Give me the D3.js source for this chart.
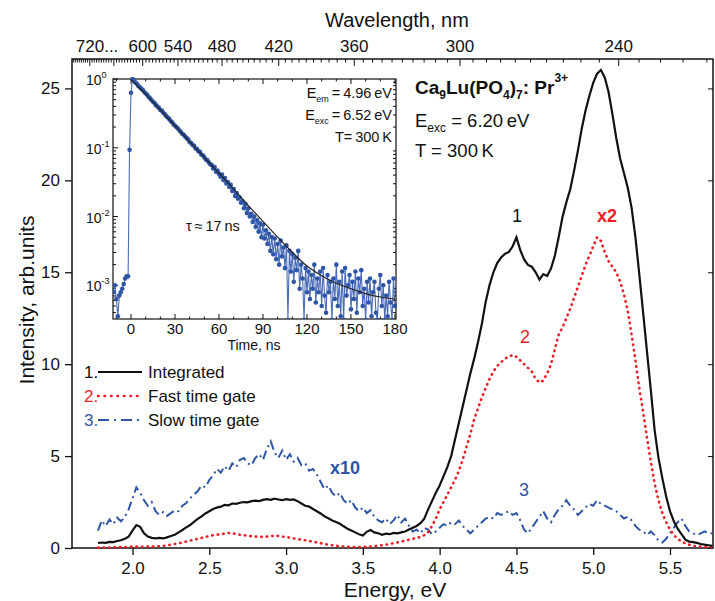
<!DOCTYPE html>
<html>
<head>
<meta charset="utf-8">
<script src="https://cdn.jsdelivr.net/npm/d3@7"></script>
<style>
  body { margin: 0; background: #fff; }
  svg { font-family: "Liberation Sans", Arial, sans-serif; }
</style>
</head>
<body>
<svg id="chart" width="715" height="601"></svg>
<script>
// energy grid of the spectra (eV): first point and step
const eStart = 1.775;
const eStep = 0.025;

// 1. integrated
const integrated = [0.27,0.30,0.28,0.33,0.32,0.38,0.42,0.50,0.62,0.95,1.25,1.15,0.80,0.62,0.55,0.52,0.55,0.52,0.58,0.65,
  0.72,0.85,0.98,1.12,1.25,1.42,1.58,1.72,1.88,2.00,2.12,2.20,2.25,2.35,2.32,2.42,2.40,2.46,2.50,2.48,
  2.55,2.58,2.55,2.62,2.66,2.62,2.68,2.64,2.60,2.66,2.62,2.64,2.55,2.42,2.30,2.25,2.12,2.00,1.88,1.72,
  1.62,1.50,1.42,1.32,1.18,1.05,0.95,0.85,0.75,0.68,0.88,0.98,0.85,0.80,0.72,0.78,0.75,0.82,0.80,0.85,
  0.90,1.00,1.10,1.20,1.35,1.60,2.10,2.55,3.00,3.40,3.90,4.40,5.00,5.90,6.80,7.70,8.60,9.50,10.3,11.2,
  12.2,13.4,14.3,15.0,15.5,15.8,16.0,16.1,16.4,16.9,16.2,15.7,15.4,15.3,15.0,14.6,14.9,14.8,15.2,15.9,
  16.9,18.0,18.8,19.5,20.5,21.6,22.8,23.8,24.6,25.3,25.8,26.0,25.6,24.8,23.6,22.3,21.2,20.4,19.6,18.5,
  16.9,14.9,12.8,10.7,8.6,6.4,4.9,3.8,2.8,2.0,1.45,1.05,0.75,0.45,0.35,0.32,0.28,0.22,0.18,0.15,0.12];

// 2. fast time gate (x2)
const fastGate = [0.02,0.02,0.03,0.03,0.04,0.04,0.05,0.05,0.06,0.08,0.08,0.07,0.07,0.08,0.08,0.09,0.10,0.12,0.14,0.18,
  0.22,0.25,0.30,0.35,0.40,0.45,0.50,0.55,0.60,0.65,0.70,0.72,0.75,0.78,0.82,0.80,0.76,0.72,0.70,0.66,
  0.64,0.62,0.62,0.60,0.62,0.66,0.64,0.66,0.62,0.60,0.56,0.52,0.48,0.45,0.42,0.38,0.35,0.30,0.26,0.22,
  0.18,0.15,0.12,0.10,0.08,0.07,0.06,0.05,0.05,0.06,0.06,0.08,0.10,0.12,0.15,0.18,0.22,0.26,0.30,0.35,
  0.40,0.45,0.50,0.55,0.60,0.70,0.85,1.20,1.60,2.10,2.50,2.90,3.30,3.70,4.20,4.80,5.50,6.20,7.00,7.60,
  8.20,8.70,9.20,9.60,9.90,10.1,10.3,10.4,10.5,10.4,10.2,10.0,9.80,9.60,9.20,9.00,9.10,9.50,10.0,10.8,
  11.6,12.0,12.5,13.0,13.6,14.2,14.8,15.4,15.9,16.4,16.9,16.7,16.1,15.6,15.3,15.0,14.5,13.8,12.9,11.6,
  10.2,8.70,7.40,6.00,4.70,3.50,2.60,1.90,1.40,1.00,0.70,0.50,0.35,0.25,0.18,0.12,0.10,0.08,0.06,0.05,0.05];

// 3. slow time gate (x10)
const slowGate = [0.95,1.50,1.20,1.55,1.30,1.65,1.45,1.70,2.10,2.70,3.30,3.00,2.60,2.30,2.50,2.00,1.80,1.95,1.75,1.90,
  2.05,2.00,2.30,2.45,2.70,2.90,3.10,3.40,3.30,3.70,3.95,4.30,4.10,4.45,4.20,4.60,4.40,4.80,4.90,4.60,
  4.50,4.90,5.10,4.80,5.40,5.80,5.20,4.90,5.30,4.80,5.10,4.70,4.90,4.50,4.60,4.20,4.30,4.00,3.60,3.20,
  3.40,3.00,2.80,3.00,2.60,2.40,2.60,2.20,2.00,2.20,1.90,2.05,1.70,1.50,1.40,1.60,1.30,1.50,1.80,1.40,
  1.60,1.20,0.90,1.00,0.80,1.10,1.00,0.75,0.90,1.10,1.30,1.20,1.40,1.30,1.50,1.20,1.00,0.80,1.00,1.20,
  1.40,1.60,1.70,1.60,1.90,1.80,1.90,2.00,1.80,1.90,1.50,1.00,0.80,1.10,1.40,1.70,2.00,1.60,1.40,1.80,
  2.10,2.30,2.60,2.30,2.10,1.80,2.00,2.20,2.40,2.30,2.60,2.40,2.30,2.20,2.10,2.00,1.80,1.60,1.70,1.50,
  1.20,1.00,0.90,0.70,0.90,0.70,0.40,0.30,0.50,0.80,1.10,1.40,1.60,1.20,0.90,0.80,0.70,0.80,0.90,0.80,0.80];

// inset: decay, log10(I) every 1 ns from -12 ns
const tStart = -12;
const decayLog = [-3.10,-3.00,-3.20,-3.45,-3.15,-3.10,-3.05,-2.98,-2.90,-2.87,-2.87,-1.03,-0.20,
  0.00,-0.02,-0.05,-0.07,-0.10,-0.12,-0.14,-0.16,-0.19,-0.21,-0.23,-0.26,-0.28,-0.31,-0.33,-0.35,-0.38,-0.40,-0.42,-0.45,
  -0.46,-0.49,-0.51,-0.54,-0.56,-0.58,-0.61,-0.63,-0.66,-0.68,-0.70,-0.72,-0.75,-0.77,-0.80,-0.81,-0.84,-0.86,-0.88,-0.92,
  -0.93,-0.96,-0.97,-1.01,-1.02,-1.05,-1.06,-1.10,-1.11,-1.14,-1.17,-1.18,-1.21,-1.24,-1.25,-1.30,-1.28,-1.35,-1.33,-1.38,
  -1.42,-1.39,-1.47,-1.44,-1.52,-1.50,-1.57,-1.54,-1.63,-1.60,-1.70,-1.66,-1.74,-1.72,-1.80,-1.78,-1.88,-1.82,-1.95,-1.88,
  -2.00,-1.96,-2.08,-2.00,-2.15,-2.05,-2.22,-2.10,-2.30,-2.12,-2.32,-2.20,-2.40,-2.25,-2.50,-2.30,-2.55,-2.32,-2.62,-2.40,
  -2.70,-2.35,-2.58,-2.45,-2.75,-2.42,-3.50,-2.50,-2.80,-2.55,-2.95,-2.60,-2.78,-2.50,-3.05,-2.70,-2.90,-3.50,-2.75,-3.10,
  -2.80,-3.20,-2.85,-3.05,-2.70,-3.25,-2.90,-3.10,-2.80,-3.30,-2.75,-3.15,-3.40,-2.85,-3.10,-2.95,-3.50,-2.90,-3.20,-2.70,
  -3.30,-2.95,-3.45,-2.80,-3.50,-2.75,-3.15,-3.00,-2.85,-3.35,-2.95,-3.20,-2.80,-3.40,-2.90,-3.10,-2.78,-3.30,-3.05,-3.50,
  -2.95,-3.25,-2.90,-3.45,-3.10,-2.95,-3.40,-3.50,-3.05,-2.85,-3.30,-3.00,-3.50,-3.15,-3.45,-2.95,-3.25,-3.50,-2.90,-3.30];

// inset: fit curve, log10(I)
const fitTime = [0,10,20,30,40,50,60,70,80,90,100,110,120,130,140,150,160,170,180];
const fitLog = [-0.01,-0.22,-0.45,-0.68,-0.91,-1.14,-1.37,-1.60,-1.84,-2.07,-2.30,-2.52,-2.72,-2.86,-2.97,-3.05,-3.12,-3.17,-3.20];

const energyTicks = [2.0, 2.5, 3.0, 3.5, 4.0, 4.5, 5.0, 5.5];
const intensityTicks = [0, 5, 10, 15, 20, 25];
const wavelengthLabels = [720, 600, 540, 480, 420, 360, 300, 240];
const timeTicks = [0, 30, 60, 90, 120, 150, 180];
const decadeTicks = [0, -1, -2, -3];

const black = "#111", red = "#ee1c25", blue = "#2e55a6";
const svg = d3.select("#chart");

// main scales
const x = d3.scaleLinear().domain([1.606, 5.78]).range([72, 713]);
const y = d3.scaleLinear().domain([0, 26.6]).range([548, 59]);
const eAt = i => eStart + i * eStep;

// frame
svg.append("rect").attr("x", 72).attr("y", 59).attr("width", 641).attr("height", 489)
  .attr("fill", "none").attr("stroke", black).attr("stroke-width", 1.5);

// bottom axis
const bottomAxis = svg.append("g").attr("transform", "translate(0,548)");
bottomAxis.call(d3.axisBottom(x).tickValues(d3.range(1.7, 5.75, 0.1)).tickSize(4).tickFormat(""));
bottomAxis.call(d3.axisBottom(x).tickValues(energyTicks).tickSize(7).tickFormat(d3.format(".1f")));
bottomAxis.selectAll(".domain").remove();
bottomAxis.selectAll("text").attr("font-size", 17).attr("fill", black).attr("dy", "0.95em");
bottomAxis.selectAll("line").attr("stroke", black).attr("stroke-width", 1.3);

// left axis
const leftAxis = svg.append("g").attr("transform", "translate(72,0)");
leftAxis.call(d3.axisLeft(y).tickValues([2.5, 7.5, 12.5, 17.5, 22.5]).tickSize(4).tickFormat(""));
leftAxis.call(d3.axisLeft(y).tickValues(intensityTicks).tickSize(7));
leftAxis.selectAll(".domain").remove();
leftAxis.selectAll("text").attr("font-size", 17).attr("fill", black).attr("x", -12);
leftAxis.selectAll("line").attr("stroke", black).attr("stroke-width", 1.3);

// right axis (inward)
const rightAxis = svg.append("g").attr("transform", "translate(713,0)");
rightAxis.call(d3.axisLeft(y).tickValues(intensityTicks).tickSize(5).tickFormat(""));
rightAxis.selectAll(".domain").remove();
rightAxis.selectAll("line").attr("stroke", black);

// top axis: wavelength, nm
const topAxis = svg.append("g");
const nmMinor = d3.range(216, 780, 6).filter(l => x(1239.84 / l) > 72 && x(1239.84 / l) < 713);
topAxis.selectAll("line").data(nmMinor).join("line")
  .attr("x1", l => x(1239.84 / l)).attr("x2", l => x(1239.84 / l))
  .attr("y1", 59).attr("y2", l => l % 60 === 0 ? 66 : 62.5)
  .attr("stroke", black).attr("stroke-width", 1);
topAxis.selectAll("text").data(wavelengthLabels).join("text")
  .attr("x", l => x(1239.84 / l) + (l === 720 ? -14 : 0))
  .attr("y", 52).attr("font-size", 17).attr("fill", black)
  .attr("text-anchor", l => l === 720 ? "start" : "middle")
  .text(l => l === 720 ? "720..." : l);
svg.append("text").attr("x", 397).attr("y", 27).attr("text-anchor", "middle")
  .attr("font-size", 20).attr("fill", black).text("Wavelength, nm");

// axis titles
svg.append("text").attr("x", 395).attr("y", 597).attr("text-anchor", "middle")
  .attr("font-size", 21).attr("fill", black).text("Energy, eV");
svg.append("text").attr("transform", "translate(34,300) rotate(-90)").attr("text-anchor", "middle")
  .attr("font-size", 21).attr("fill", black).text("Intensity, arb.units");

// spectra
const line = d3.line().x((d, i) => x(eAt(i))).y(d => y(d));
svg.append("path").attr("d", line(slowGate)).attr("fill", "none").attr("stroke", blue)
  .attr("stroke-width", 2).attr("stroke-dasharray", "9,4,2,4");
svg.append("path").attr("d", line(fastGate)).attr("fill", "none").attr("stroke", red)
  .attr("stroke-width", 2.6).attr("stroke-linecap", "round").attr("stroke-dasharray", "0.5,5");
svg.append("path").attr("d", line(integrated)).attr("fill", "none").attr("stroke", black)
  .attr("stroke-width", 2.2);

// curve labels
const lab = (tx, ty, t, c, bold) => svg.append("text").attr("x", tx).attr("y", ty)
  .attr("text-anchor", "middle").attr("font-size", 18).attr("fill", c)
  .attr("font-weight", bold ? "bold" : "normal").text(t);
lab(517, 222, "1", black);
lab(607, 222, "x2", red, true);
lab(525, 343, "2", red);
lab(524, 496, "3", blue);
lab(345, 474, "x10", blue, true);

// legend
const legend = [
  {n: "1.", name: "Integrated", c: black, dash: null, w: 2.2},
  {n: "2.", name: "Fast time gate", c: red, dash: "0.5,6", w: 2.6},
  {n: "3.", name: "Slow time gate", c: blue, dash: "11,5,2,5", w: 2}
];
legend.forEach((d, i) => {
  const ly = 372 + i * 24;
  svg.append("text").attr("x", 84).attr("y", ly + 6).attr("font-size", 17).attr("fill", d.c).text(d.n);
  svg.append("line").attr("x1", 98).attr("x2", 142).attr("y1", ly).attr("y2", ly)
    .attr("stroke", d.c).attr("stroke-width", d.w).attr("stroke-dasharray", d.dash)
    .attr("stroke-linecap", d.dash && d.dash.startsWith("0.5") ? "round" : "butt");
  svg.append("text").attr("x", 148).attr("y", ly + 6).attr("font-size", 17).attr("fill", black).text(d.name);
});

// sample / conditions text
const formula = svg.append("text").attr("x", 415).attr("y", 94).attr("font-size", 19)
  .attr("font-weight", "bold").attr("fill", black);
[["Ca"], ["9", "sub"], ["Lu(PO"], ["4", "sub"], [")"], ["7", "sub"], [": Pr"], ["3+", "sup"]].forEach(([t, k], i) => {
  const s = formula.append("tspan").text(t);
  if (k === "sub") s.attr("font-size", 12).attr("dy", 5);
  else if (k === "sup") s.attr("font-size", 12).attr("dy", -12);
  else if (i > 0) s.attr("dy", -5);
});
const exc = svg.append("text").attr("x", 415).attr("y", 127).attr("font-size", 18.5).attr("fill", black);
exc.append("tspan").text("E");
exc.append("tspan").attr("font-size", 12).attr("dy", 5).text("exc");
exc.append("tspan").attr("dy", -5).text(" = 6.20\u2009eV");
svg.append("text").attr("x", 415).attr("y", 157).attr("font-size", 18.5).attr("fill", black).text("T = 300\u2009K");

// ---------- inset ----------
const ix = d3.scaleLinear().domain([-12.3, 180.7]).range([113, 396]);
const iy = d3.scaleLog().domain([Math.pow(10, -3.49), 1]).range([319, 79]);
svg.append("rect").attr("x", 113).attr("y", 79).attr("width", 283).attr("height", 240)
  .attr("fill", "#fff").attr("stroke", black).attr("stroke-width", 1.2);
svg.append("clipPath").attr("id", "insetClip").append("rect")
  .attr("x", 113).attr("y", 77).attr("width", 284).attr("height", 242);

const inset = svg.append("g");
// inset ticks (inward)
const minorLog = [];
decadeTicks.concat([-4]).forEach(p => d3.range(2, 10).forEach(m => {
  const v = m * Math.pow(10, p);
  if (v > Math.pow(10, -3.49) && v < 1) minorLog.push(v);
}));
inset.selectAll("line.ml").data(minorLog).join("line").attr("class", "ml")
  .attr("x1", 113).attr("x2", 116).attr("y1", d => iy(d)).attr("y2", d => iy(d)).attr("stroke", black);
inset.selectAll("line.mr").data(minorLog).join("line").attr("class", "mr")
  .attr("x1", 396).attr("x2", 393).attr("y1", d => iy(d)).attr("y2", d => iy(d)).attr("stroke", black);
inset.selectAll("line.mj").data(decadeTicks).join("line").attr("class", "mj")
  .attr("x1", 113).attr("x2", 118).attr("y1", p => iy(Math.pow(10, p))).attr("y2", p => iy(Math.pow(10, p)))
  .attr("stroke", black);
const tMinor = d3.range(-10, 181, 10);
inset.selectAll("line.tb").data(tMinor).join("line").attr("class", "tb")
  .attr("x1", t => ix(t)).attr("x2", t => ix(t)).attr("y1", 319)
  .attr("y2", t => t % 30 === 0 ? 314 : 316.5).attr("stroke", black);
inset.selectAll("line.tt").data(tMinor).join("line").attr("class", "tt")
  .attr("x1", t => ix(t)).attr("x2", t => ix(t)).attr("y1", 79)
  .attr("y2", t => t % 30 === 0 ? 84 : 81.5).attr("stroke", black);

inset.selectAll("text.tl").data(timeTicks).join("text").attr("class", "tl")
  .attr("x", t => ix(t)).attr("y", 334).attr("text-anchor", "middle")
  .attr("font-size", 15).attr("fill", black).text(t => t);
svg.append("text").attr("x", 254).attr("y", 350).attr("text-anchor", "middle")
  .attr("font-size", 14).attr("fill", black).text("Time, ns");
decadeTicks.forEach(p => {
  const t = svg.append("text").attr("x", 86).attr("y", iy(Math.pow(10, p)) + 6)
    .attr("font-size", 14).attr("fill", black);
  t.append("tspan").text("10");
  t.append("tspan").attr("font-size", 9).attr("dy", -7).text(p === 0 ? "0" : "-" + (-p));
});

// decay data
const decay = decayLog.map((v, i) => ({t: tStart + i, v: Math.pow(10, v)}));
const dg = svg.append("g").attr("clip-path", "url(#insetClip)");
dg.append("path").attr("d", d3.line().x(d => ix(d.t)).y(d => iy(d.v))(decay))
  .attr("fill", "none").attr("stroke", "#4a6cb8").attr("stroke-width", 1.1);
dg.selectAll("circle").data(decay).join("circle")
  .attr("cx", d => ix(d.t)).attr("cy", d => iy(d.v)).attr("r", 2.3).attr("fill", blue);
dg.append("path")
  .attr("d", d3.line().curve(d3.curveMonotoneX).x((d, i) => ix(fitTime[i])).y(d => iy(Math.pow(10, d)))(fitLog))
  .attr("fill", "none").attr("stroke", "#222").attr("stroke-width", 1.2);

// inset texts
const itext = (ty, base, sub, rest) => {
  const t = svg.append("text").attr("x", 392).attr("y", ty).attr("text-anchor", "end")
    .attr("font-size", 14.5).attr("fill", black);
  t.append("tspan").text(base);
  if (sub) {
    t.append("tspan").attr("font-size", 9).attr("dy", 4).text(sub);
    t.append("tspan").attr("dy", -4).text(rest);
  }
};
itext(98, "E", "em", "\u2009=\u20094.96\u2009eV");
itext(120, "E", "exc", "\u2009=\u20096.52\u2009eV");
itext(142, "T=\u2009300\u2009K");
svg.append("text").attr("x", 186).attr("y", 231).attr("font-size", 14.5).attr("fill", black)
  .text("\u03c4\u2009\u2248\u200917\u2009ns");
</script>
</body>
</html>
